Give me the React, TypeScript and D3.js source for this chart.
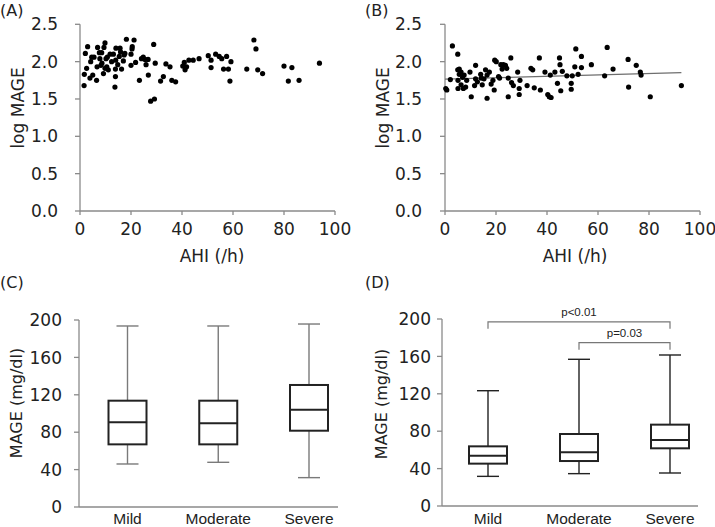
import React from "react";
import * as d3 from "d3";

// ---------- DATA ----------
// Panel A: AHI (/h) vs log MAGE
const panelA: [number, number][] = [
  [1.6, 1.68], [1.7, 1.83], [2.1, 2.11], [3.0, 2.2], [2.6, 1.91], [3.9, 1.78], [4.2, 2.0], [4.6, 2.06], [5.0, 1.82], [5.5, 2.06],
  [6.5, 1.75], [6.7, 1.93], [6.9, 2.19], [7.6, 2.12], [7.8, 2.04], [8.5, 2.12], [8.6, 1.98], [9.2, 1.84], [9.4, 2.19], [9.8, 2.25],
  [9.8, 1.91], [10.2, 2.04], [10.5, 1.93], [11.1, 1.89], [11.8, 2.1], [12.4, 2.0], [13.1, 2.1], [13.7, 1.66], [13.9, 1.8], [13.9, 1.9],
  [14.0, 2.02], [14.1, 2.18], [14.8, 1.96], [15.4, 2.07], [15.7, 2.18], [15.9, 2.13], [16.3, 1.9], [17.0, 2.01], [17.3, 2.09], [17.6, 2.11],
  [18.2, 2.3], [20.0, 1.95], [20.0, 2.1], [20.4, 2.17], [20.5, 2.2], [21.2, 2.29], [21.8, 1.99], [23.3, 1.75], [24.1, 2.04], [24.8, 2.06],
  [25.5, 2.03], [25.9, 1.96], [26.7, 2.03], [26.8, 1.82], [27.7, 1.47], [29.2, 1.5], [28.9, 2.23], [29.5, 1.98], [31.6, 1.74], [32.7, 1.8],
  [33.7, 1.97], [35.3, 1.93], [36.0, 1.75], [37.5, 1.73], [40.3, 1.94], [40.9, 1.99], [41.2, 1.89], [41.8, 1.93], [42.7, 2.02], [44.4, 2.02],
  [46.7, 2.04], [50.3, 2.08], [51.4, 2.02], [51.4, 1.92], [53.2, 2.1], [54.6, 2.07], [55.6, 2.04], [56.3, 1.9], [57.5, 2.07], [58.2, 1.9],
  [58.8, 1.74], [59.2, 2.0], [65.4, 1.9], [68.2, 2.29], [69.0, 2.17], [69.7, 1.89], [71.6, 1.84], [80.0, 1.94], [81.7, 1.74], [83.1, 1.92],
  [85.9, 1.75], [93.9, 1.98], [10.7, 2.06], [8.2, 1.95],
];

// Panel B: AHI (/h) vs log MAGE
const panelB: [number, number][] = [
  [0.3, 1.64], [0.7, 1.62], [2.1, 1.76], [2.9, 2.21], [5.0, 2.1], [5.0, 1.89], [5.1, 1.75], [5.1, 1.64], [5.6, 1.9], [5.6, 1.83],
  [6.3, 1.86], [6.3, 1.69], [6.9, 1.79], [7.2, 1.64], [7.5, 1.82], [8.1, 1.66], [8.5, 1.75], [9.8, 1.86], [10.3, 1.53], [12.0, 1.95],
  [12.0, 1.77], [11.6, 1.68], [12.7, 1.73], [14.0, 1.83], [14.2, 1.78], [14.6, 1.69], [15.3, 1.77], [15.9, 1.89], [16.5, 1.51], [16.5, 1.82],
  [17.4, 1.86], [18.1, 1.7], [18.8, 1.75], [19.3, 1.62], [19.5, 2.02], [20.1, 2.0], [21.0, 1.8], [21.4, 1.78], [21.9, 1.96], [22.4, 1.9],
  [22.9, 1.96], [23.7, 1.95], [24.2, 1.91], [24.8, 1.53], [24.8, 1.78], [25.8, 2.05], [26.1, 1.72], [26.8, 1.68], [28.5, 1.86], [29.1, 1.64],
  [29.4, 1.75], [29.1, 1.56], [32.2, 1.68], [33.7, 1.91], [34.4, 1.89], [35.0, 1.65], [37.0, 2.05], [37.4, 1.62], [39.2, 1.86], [40.3, 1.56],
  [40.9, 1.53], [41.6, 1.52], [41.3, 1.82], [43.1, 1.86], [44.1, 1.71], [44.9, 2.05], [45.1, 1.96], [45.4, 1.61], [46.0, 1.87], [49.5, 1.71],
  [49.5, 1.63], [47.8, 1.81], [49.9, 1.81], [50.9, 1.93], [51.3, 2.17], [52.2, 1.83], [53.5, 2.07], [53.5, 1.92], [57.4, 1.96], [62.6, 1.81],
  [63.6, 2.19], [65.9, 1.9], [71.8, 2.03], [72.0, 1.66], [75.0, 1.95], [76.6, 1.86], [76.9, 1.82], [80.5, 1.53], [92.7, 1.68],
];
const regressionB = { intercept: 1.765, slope: 0.00095 };

const scatterXTicks = [0, 20, 40, 60, 80, 100];
const scatterYTicks = [0, 0.5, 1.0, 1.5, 2.0, 2.5];
const boxYTicks = [0, 40, 80, 120, 160, 200];
const categories = ["Mild", "Moderate", "Severe"];

// Box stats: [whiskerLow, Q1, median, Q3, whiskerHigh]
const boxC: [number, number, number, number, number][] = [
  [46, 67, 90.6, 113.7, 193.6],
  [47.8, 67, 89.5, 113.7, 193.6],
  [31.4, 81.6, 104, 130.5, 195.7],
];
const boxD: [number, number, number, number, number][] = [
  [31.7, 45.3, 53.8, 63.8, 123.3],
  [34.6, 48.1, 57.4, 77, 156.9],
  [35.3, 61.7, 70.6, 87, 161.5],
];
const bracketsD = [
  { from: "Mild", to: "Severe", y: 197, label: "p<0.01" },
  { from: "Moderate", to: "Severe", y: 174.7, label: "p=0.03" },
];

const FONT = "'DejaVu Sans', sans-serif";
const CAT_FONT = "'Liberation Sans', Arial, sans-serif";
const AXIS = "#8a8a8a";
const FS = 17;

type ScatterProps = {
  data: [number, number][];
  xRange: [number, number];
  yRange: [number, number];
  tag: string;
  tagX: number;
  ylabX: number;
  ylabY: number;
  xlabX: number;
  tickRight: number;
  regression?: { intercept: number; slope: number };
};

function Scatter(p: ScatterProps) {
  const x = d3.scaleLinear().domain([0, 100]).range(p.xRange);
  const y = d3.scaleLinear().domain([0, 2.5]).range(p.yRange);
  const x0 = p.xRange[0];
  const yb = p.yRange[0];
  let reg = null as any;
  if (p.regression) {
    const xmax = d3.max(p.data, (d) => d[0]) as number;
    const line = d3
      .line<number>()
      .x((v) => x(v))
      .y((v) => y(p.regression!.intercept + p.regression!.slope * v));
    reg = <path d={line([0, xmax]) || ""} stroke="#6e6e6e" strokeWidth={1.3} fill="none" />;
  }
  return (
    <g>
      <text x={p.tagX} y={16} fontFamily={FONT} fontSize={16} fill="#222">{p.tag}</text>
      <line x1={x0} x2={x0} y1={y(2.5)} y2={yb} stroke={AXIS} strokeWidth={1.3} />
      <line x1={x0} x2={x(100)} y1={yb} y2={yb} stroke={AXIS} strokeWidth={1.3} />
      {scatterYTicks.map((t) => (
        <g key={"y" + t}>
          <line x1={x0 - 5} x2={x0} y1={y(t)} y2={y(t)} stroke={AXIS} strokeWidth={1.3} />
          <text x={p.tickRight} y={y(t)} dy="0.36em" textAnchor="end" fontFamily={FONT} fontSize={FS} fill="#222">
            {t.toFixed(1)}
          </text>
        </g>
      ))}
      {scatterXTicks.map((t) => (
        <g key={"x" + t}>
          <line x1={x(t)} x2={x(t)} y1={yb} y2={yb + 4} stroke={AXIS} strokeWidth={1.3} />
          <text x={x(t)} y={235} textAnchor="middle" fontFamily={FONT} fontSize={FS} fill="#222">{t}</text>
        </g>
      ))}
      <text x={p.xlabX} y={262} textAnchor="middle" fontFamily={FONT} fontSize={FS} fill="#222">AHI (/h)</text>
      <text transform={`translate(${p.ylabX},${p.ylabY}) rotate(-90)`} textAnchor="middle" fontFamily={FONT} fontSize={FS} fill="#222">
        log MAGE
      </text>
      {reg}
      {p.data.map((d, i) => (
        <circle key={i} cx={x(d[0])} cy={y(d[1])} r={2.6} fill="#000" />
      ))}
    </g>
  );
}

type BoxProps = {
  stats: [number, number, number, number, number][];
  axisX: [number, number];
  catRange: [number, number];
  yRange: [number, number];
  tag: string;
  tagX: number;
  ylabX: number;
  ylabY: number;
  tickRight: number;
  whiskerColor: string;
  brackets?: { from: string; to: string; y: number; label: string }[];
};

function BoxPanel(p: BoxProps) {
  const x = d3.scalePoint<string>().domain(categories).range(p.catRange);
  const y = d3.scaleLinear().domain([0, 200]).range(p.yRange);
  const x0 = p.axisX[0];
  const yb = p.yRange[0];
  const hw = 19;
  const cw = 11;
  return (
    <g>
      <text x={p.tagX} y={288} fontFamily={FONT} fontSize={16} fill="#222">{p.tag}</text>
      <line x1={x0} x2={x0} y1={y(200)} y2={yb} stroke={AXIS} strokeWidth={1.3} />
      <line x1={x0} x2={p.axisX[1]} y1={yb} y2={yb} stroke={AXIS} strokeWidth={1.3} />
      {boxYTicks.map((t) => (
        <g key={t}>
          <line x1={x0 - 5} x2={x0} y1={y(t)} y2={y(t)} stroke={AXIS} strokeWidth={1.3} />
          <text x={p.tickRight} y={y(t)} dy="0.36em" textAnchor="end" fontFamily={FONT} fontSize={FS} fill="#222">{t}</text>
        </g>
      ))}
      {categories.map((c) => (
        <text key={c} x={x(c)} y={524} textAnchor="middle" fontFamily={CAT_FONT} fontSize={15.5} fill="#222">{c}</text>
      ))}
      <text transform={`translate(${p.ylabX},${p.ylabY}) rotate(-90)`} textAnchor="middle" fontFamily={FONT} fontSize={16} fill="#222">
        MAGE (mg/dl)
      </text>
      {p.stats.map((s, i) => {
        const cx = x(categories[i]) as number;
        return (
          <g key={i}>
            <line x1={cx} x2={cx} y1={y(s[4])} y2={y(s[3])} stroke={p.whiskerColor} strokeWidth={1.4} />
            <line x1={cx} x2={cx} y1={y(s[1])} y2={y(s[0])} stroke={p.whiskerColor} strokeWidth={1.4} />
            <line x1={cx - cw} x2={cx + cw} y1={y(s[4])} y2={y(s[4])} stroke={p.whiskerColor} strokeWidth={1.4} />
            <line x1={cx - cw} x2={cx + cw} y1={y(s[0])} y2={y(s[0])} stroke={p.whiskerColor} strokeWidth={1.4} />
            <rect x={cx - hw} y={y(s[3])} width={hw * 2} height={y(s[1]) - y(s[3])} fill="#fff" stroke="#222" strokeWidth={2} />
            <line x1={cx - hw} x2={cx + hw} y1={y(s[2])} y2={y(s[2])} stroke="#222" strokeWidth={2} />
          </g>
        );
      })}
      {(p.brackets || []).map((b, i) => {
        const xa = x(b.from) as number;
        const xb = x(b.to) as number;
        const yy = y(b.y);
        return (
          <g key={i}>
            <path d={`M${xa},${yy + 7}V${yy}H${xb}V${yy + 7}`} fill="none" stroke="#777" strokeWidth={1.2} />
            <text x={(xa + xb) / 2} y={yy - 6} textAnchor="middle" fontFamily={CAT_FONT} fontSize={11.5} fill="#222">{b.label}</text>
          </g>
        );
      })}
    </g>
  );
}

export default function App() {
  return (
    <svg width={715} height={527} style={{ position: "absolute", left: 0, top: 0, background: "#fff" }}>
      <rect width={715} height={527} fill="#fff" />
      <Scatter data={panelA} xRange={[80, 335]} yRange={[211, 24.3]} tag="(A)" tagX={0} ylabX={24} ylabY={108} xlabX={212} tickRight={58} />
      <Scatter data={panelB} xRange={[445, 700]} yRange={[211, 24.3]} tag="(B)" tagX={365} ylabX={389} ylabY={108} xlabX={575} tickRight={422} regression={regressionB} />
      <BoxPanel stats={boxC} axisX={[79, 338]} catRange={[127.5, 309]} yRange={[507, 320]} tag="(C)" tagX={0} ylabX={22} ylabY={403} tickRight={62} whiskerColor="#7a7a7a" />
      <BoxPanel stats={boxD} axisX={[442, 698]} catRange={[488, 670]} yRange={[506, 319]} tag="(D)" tagX={365} ylabX={387} ylabY={404} tickRight={431} whiskerColor="#222" brackets={bracketsD} />
    </svg>
  );
}
